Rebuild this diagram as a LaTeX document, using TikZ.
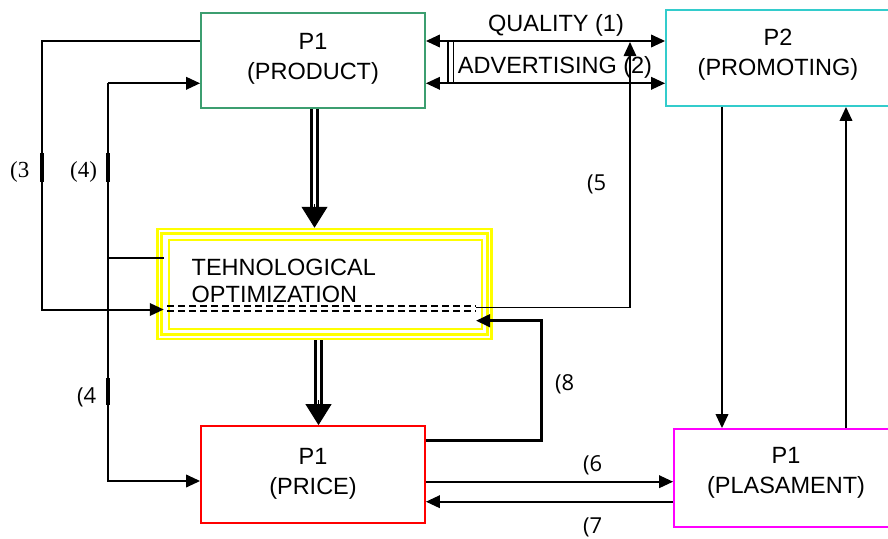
\documentclass[tikz,border=0pt]{standalone}
\usepackage{fontspec}
\setmainfont{Liberation Sans}
\newfontfamily\serifnum{Liberation Serif}
\newfontfamily\numfont{Open Sans}
\usetikzlibrary{arrows.meta,calc}
\definecolor{pgreen}{HTML}{3C9E70}
\definecolor{pcyan}{HTML}{33CCCC}
\definecolor{pred}{HTML}{FF0000}
\definecolor{pmag}{HTML}{FF00FF}
\definecolor{pyel}{HTML}{FFFF00}
\begin{document}
\begin{tikzpicture}[x=1pt,y=-1pt,
  font=\fontsize{23.5}{30}\selectfont,
  box/.style={draw, line width=1.8pt, inner sep=0pt},
  txt/.style={align=center, inner sep=0pt},
  ln/.style={line width=2pt},
  tip/.style={-{Triangle[length=14pt,width=12.5pt]}},
  arr/.style={line width=2pt, tip},
  darr/.style={line width=2pt, {Triangle[length=14pt,width=12.5pt]}-{Triangle[length=14pt,width=12.5pt]}},
  tseg/.style={line width=4.5pt},
  dbl/.style={line width=3pt, double=white, double distance=2.5pt},
  bigtip/.style={line width=1pt, -{Triangle[length=21pt,width=26pt]}},
  dashl/.style={line width=2.8pt, dash pattern=on 7pt off 4pt},
  num/.style={font=\numfont\fontsize{22}{26}\selectfont, inner sep=0pt, anchor=base west},
  snum/.style={font=\serifnum\fontsize{23}{26}\selectfont, inner sep=0pt, anchor=base west}]
\useasboundingbox (0,0) rectangle (888,538);
\clip (0,0) rectangle (888,538);

% boxes
\node[box, draw=pgreen, minimum width=224pt, minimum height=95pt] (prod) at (313,60.5) {};
\node[box, draw=pcyan, minimum width=229pt, minimum height=96pt] (p2) at (780.5,58) {};
\node[box, draw=pred, minimum width=224pt, minimum height=97pt] (price) at (313,474.5) {};
\node[box, draw=pmag, minimum width=221pt, minimum height=98pt] (plas) at (784.5,478) {};
\node[draw=pyel, line width=2.5pt, minimum width=334pt, minimum height=110pt, inner sep=0pt] (tech) at (324.5,284) {};
\draw[pyel, line width=3.2pt] ($(tech.north west)+(5.5,5.5)$) rectangle ($(tech.south east)+(-5.5,-5.5)$);
\draw[pyel, line width=2.2pt] ($(tech.north west)+(12.5,12)$) rectangle ($(tech.south east)+(-11,-11)$);

% texts
\node[txt] (prodt) at (313,59) {P1\\(PRODUCT)};
\node[txt] (p2t) at (778,55) {P2\\(PROMOTING)};
\node[txt] (pricet) at (313,474) {P1\\(PRICE)};
\node[txt] (plast) at (786,473) {P1\\(PLASAMENT)};
\node[inner sep=0pt, align=left, anchor=west, font=\fontsize{23.5}{27}\selectfont] (techt) at (191.5,281) {TEHNOLOGICAL\\OPTIMIZATION};
\node[txt, anchor=base] (lq) at (556,31) {QUALITY (1)};
\node[txt, anchor=base] (la) at (555,73.5) {ADVERTISING (2)};
\node[snum] (n3) at (10,177) {(3};
\node[snum] (n4a) at (70,177) {(4)};
\node[num] (n4b) at (77,403) {(4};
\node[num] (n5) at (587,190) {(5};
\node[num] (n6) at (583,471.5) {(6};
\node[num] (n7) at (583,533) {(7};
\node[num] (n8) at (555,390) {(8};

% coordinates
\coordinate (c3a) at (42,41);
\coordinate (c3b) at (42,309.5);
\coordinate (c3s) at (42,153);
\coordinate (c3e) at (42,182);
\coordinate (c4t) at (108,83.3);
\coordinate (c4b) at (108,481);
\coordinate (c4m) at (108,258);
\coordinate (c4s) at (108,153);
\coordinate (c4e) at (108,182);
\coordinate (c4s2) at (108,378);
\coordinate (c4e2) at (108,405);
\coordinate (dbA1) at (448,41);
\coordinate (dbA2) at (448,83);
\coordinate (dbB1) at (453.5,41);
\coordinate (dbB2) at (453.5,83);
\coordinate (c5a) at (476,307.5);
\coordinate (c5t) at (630,42);
\coordinate (c8t) at (541.5,320.7);
\coordinate (c8e) at (476,320.7);
\coordinate (dsA1) at (167,306);
\coordinate (dsA2) at (476,306);
\coordinate (dsB1) at (167,311);
\coordinate (dsB2) at (476,311);

% quality / advertising
\draw[darr] (prod.east |- 0,41) -- (p2.west |- 0,41);
\draw[darr] (prod.east |- 0,83.3) -- (p2.west |- 0,83.3);
\draw[line width=1.8pt] (dbA1) -- (dbA2);
\draw[line width=1.8pt] (dbB1) -- (dbB2);

% (3)
\draw[arr] (prod.west |- c3a) -- (c3a) -- (c3b) -- ($(tech.west |- c3b)+(7.5,0)$);
\draw[tseg] (c3s) -- (c3e);

% (4)
\draw[arr] (c4t) -- (prod.west |- c4t);
\draw[arr] (c4t) -- (c4b) -- (price.west |- c4b);
\draw[ln] (c4m) -- ($(tech.west |- c4m)+(7.5,0)$);
\draw[tseg] (c4s) -- (c4e);
\draw[tseg] (c4s2) -- (c4e2);

% dashed double line in tech
\draw[dashl] (dsA1) -- (dsA2);
\draw[dashl] (dsB1) -- (dsB2);

% (5)
\draw[line width=1.6pt, tip] (c5a) -| (c5t);

% (8)
\draw[line width=2.8pt, tip] (price.east |- 0,440.7) -| (c8t) -- (c8e);

% (6) (7)
\draw[arr] (price.east |- 0,481.7) -- (plas.west |- 0,481.7);
\draw[arr] (plas.west |- 0,501.7) -- (price.east |- 0,501.7);

% P2 <-> plasament
\draw[arr] (p2.south -| 722,0) -- (plas.north -| 722,0);
\draw[arr] (plas.north -| 846,0) -- (p2.south -| 846,0);

% big double arrows
\draw[dbl] (prod.south -| 314.5,0) -- (314.5,212);
\draw[bigtip] (314.5,204) -- (tech.north -| 314.5,0);
\draw[dbl] (tech.south -| 318.5,0) -- (318.5,408);
\draw[bigtip] (318.5,400) -- (price.north -| 318.5,0);
\end{tikzpicture}
\end{document}
